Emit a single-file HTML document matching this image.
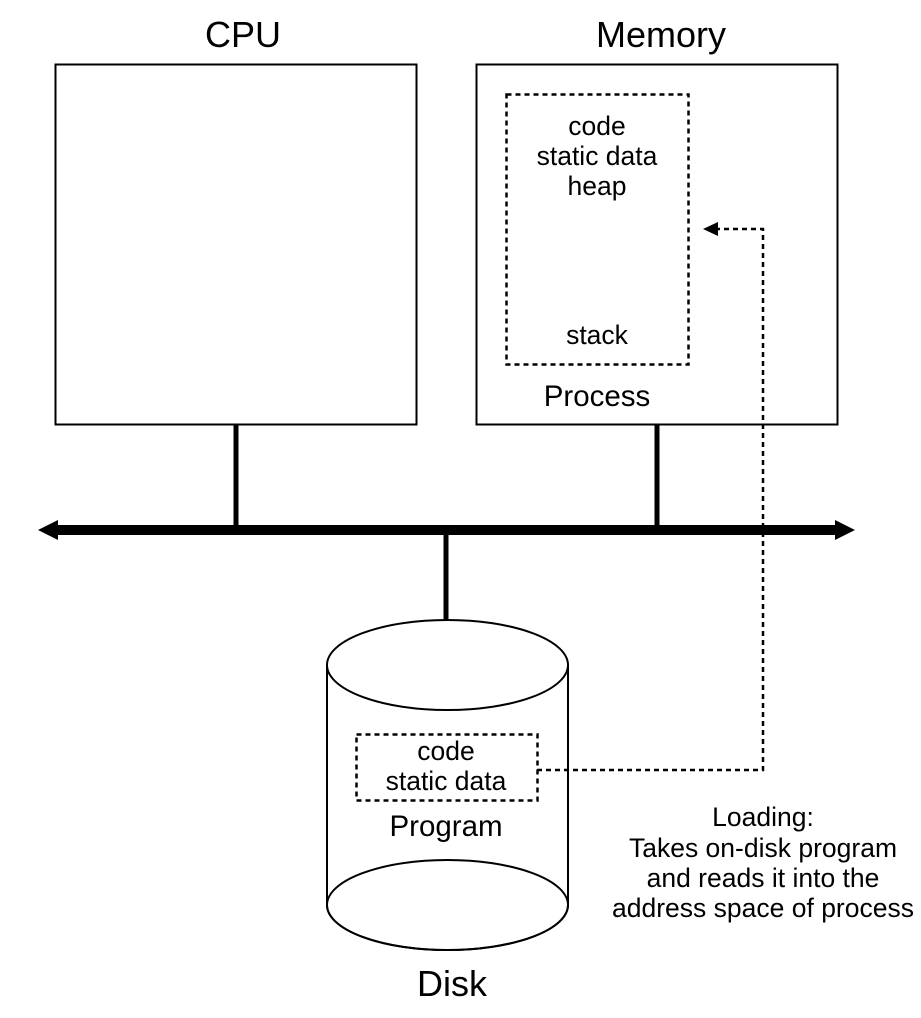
<!DOCTYPE html>
<html><head><meta charset="utf-8"><style>
body{margin:0;background:#fff}
svg text{font-family:"Liberation Sans",sans-serif;fill:#000}
</style></head><body>
<svg width="921" height="1013" viewBox="0 0 921 1013" xmlns="http://www.w3.org/2000/svg">
<text x="243" y="47" font-size="36" text-anchor="middle">CPU</text>
<text x="661" y="47" font-size="36" text-anchor="middle">Memory</text>
<rect x="55.5" y="64.5" width="361" height="360" fill="none" stroke="#000" stroke-width="2"/>
<rect x="476.5" y="64.5" width="361" height="360" fill="none" stroke="#000" stroke-width="2"/>
<rect x="506.5" y="94.5" width="182" height="270" fill="none" stroke="#000" stroke-width="2.5" stroke-dasharray="5,4"/>
<g font-size="26.5" text-anchor="middle">
<text x="597" y="135">code</text>
<text x="597" y="165">static data</text>
<text x="597" y="195">heap</text>
<text x="597" y="344">stack</text>
</g>
<text x="597" y="406" font-size="29.5" text-anchor="middle">Process</text>
<line x1="236" y1="424" x2="236" y2="530" stroke="#000" stroke-width="5"/>
<line x1="657" y1="424" x2="657" y2="530" stroke="#000" stroke-width="5"/>
<line x1="446" y1="530" x2="446" y2="620" stroke="#000" stroke-width="5"/>
<line x1="55" y1="530" x2="838" y2="530" stroke="#000" stroke-width="10"/>
<polygon points="38,530 58,520 58,540" fill="#000"/>
<polygon points="855,530 835,520 835,540" fill="#000"/>
<path d="M327,665 L327,905 A120.5,45 0 0 0 568,905 L568,665" fill="#fff" stroke="#000" stroke-width="2"/>
<ellipse cx="447.5" cy="665" rx="120.5" ry="45" fill="#fff" stroke="#000" stroke-width="2"/>
<ellipse cx="447.5" cy="905" rx="120.5" ry="45" fill="none" stroke="#000" stroke-width="2"/>
<rect x="356.5" y="734.5" width="181" height="66" fill="none" stroke="#000" stroke-width="2.5" stroke-dasharray="5,4"/>
<g font-size="26.5" text-anchor="middle">
<text x="446" y="760">code</text>
<text x="446" y="790">static data</text>
</g>
<text x="446" y="836" font-size="29.5" text-anchor="middle">Program</text>
<text x="452" y="996" font-size="36" text-anchor="middle">Disk</text>
<path d="M537,770 L763,770 L763,229 L715,229" fill="none" stroke="#000" stroke-width="2.5" stroke-dasharray="5,4"/>
<polygon points="703,229 718,222 718,236" fill="#000"/>
<g font-size="26.5" text-anchor="middle">
<text x="763" y="826">Loading:</text>
<text x="763" y="857">Takes on-disk program</text>
<text x="763" y="887">and reads it into the</text>
<text x="763" y="917">address space of process</text>
</g>
</svg>
</body></html>
